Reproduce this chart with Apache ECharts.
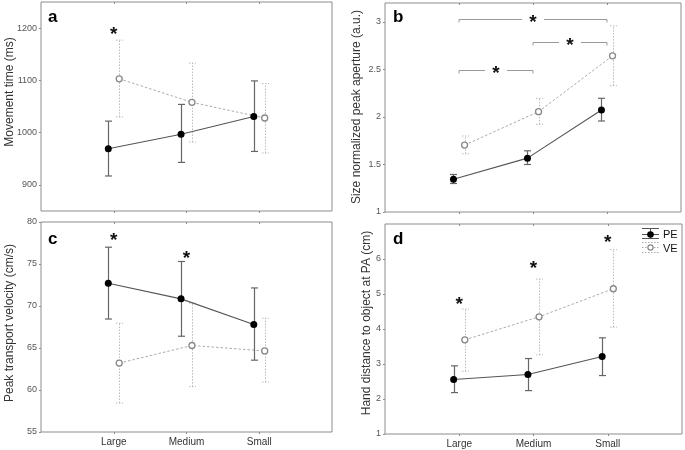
<!DOCTYPE html>
<html>
<head>
<meta charset="utf-8">
<script src="https://cdn.jsdelivr.net/npm/echarts@6/dist/echarts.min.js"></script>
<style>html,body{margin:0;padding:0;background:#fff}#c{width:685px;height:450px}</style>
</head>
<body>
<div id="c"></div>
<script>
// ---------- data ----------
const categories = ['Large', 'Medium', 'Small'];

const aPE = [969, 997, 1031];
const aPELo = [917, 943, 964];
const aPEHi = [1022, 1054, 1099];
const aVE = [1103, 1058, 1028];
const aVELo = [1030, 982, 961];
const aVEHi = [1177, 1133, 1094];

const bPE = [1.345, 1.567, 2.074];
const bPELo = [1.30, 1.50, 1.958];
const bPEHi = [1.395, 1.644, 2.197];
const bVE = [1.704, 2.056, 2.644];
const bVELo = [1.613, 1.923, 2.33];
const bVEHi = [1.80, 2.197, 2.96];

const cPE = [72.7, 70.85, 67.8];
const cPELo = [68.45, 66.4, 63.55];
const cPEHi = [77.0, 75.3, 72.15];
const cVE = [63.2, 65.3, 64.65];
const cVELo = [58.45, 60.4, 60.95];
const cVEHi = [67.95, 70.35, 68.55];

const dPE = [2.555, 2.70, 3.214];
const dPELo = [2.183, 2.24, 2.67];
const dPEHi = [2.947, 3.156, 3.748];
const dVE = [3.69, 4.349, 5.15];
const dVELo = [2.794, 3.26, 4.053];
const dVEHi = [4.569, 5.427, 6.267];

// significance markers (category position, value)
const aStars = [[1, 1195]];
const cStars = [[1, 78.3], [2, 76.1]];
const dStars = [[1, 4.8], [2, 5.84], [3, 6.58]];
// panel b brackets: from category, to category, level
const bBracketFrom = [1, 2, 1];
const bBracketTo = [3, 3, 2];
const bBracketLevel = [3.035, 2.79, 2.5];

// axis ranges / ticks
const aTicks = [900, 1000, 1100, 1200];
const bTicks = [1, 1.5, 2, 2.5, 3];
const cTicks = [55, 60, 65, 70, 75, 80];
const dTicks = [1, 2, 3, 4, 5, 6];

// ---------- chart ----------
const FONT = '"Liberation Sans", Arial, sans-serif';
const FRAME = '#8c8c8c';
const OFF = 0.075;

const chart = echarts.init(document.getElementById('c'), null, {renderer: 'canvas'});

const grids = [
  {left: 41, top: 2, width: 291, height: 209},
  {left: 385, top: 3, width: 296, height: 209},
  {left: 41, top: 222, width: 291, height: 210},
  {left: 385, top: 224, width: 297, height: 210}
];
const yRanges = [[850, 1250, aTicks], [1, 3.2, bTicks], [55, 80, cTicks], [1, 7, dTicks]];
const catPos = categories.map((c, i) => i + 1);

const xAxes = [];
const yAxes = [];
for (let k = 0; k < 4; k++) {
  const showLab = k >= 2;
  xAxes.push({
    type: 'value', gridIndex: k, min: 0, max: 4, position: 'bottom',
    splitLine: {show: false}, axisLine: {show: false},
    axisTick: {show: true, customValues: catPos, length: 2, lineStyle: {color: FRAME}},
    axisLabel: {show: showLab, customValues: catPos, formatter: v => categories[Math.round(v) - 1] || '',
      fontFamily: FONT, fontSize: 10, color: '#333', margin: 5}
  });
  yAxes.push({
    type: 'value', gridIndex: k, min: yRanges[k][0], max: yRanges[k][1],
    splitLine: {show: false}, axisLine: {show: false},
    axisTick: {show: true, customValues: yRanges[k][2], length: 2, lineStyle: {color: FRAME}},
    axisLabel: {customValues: yRanges[k][2], formatter: v => String(v),
      fontFamily: FONT, fontSize: 9, color: '#555', margin: 4}
  });
}
for (let k = 0; k < 4; k++) {
  xAxes.push({
    type: 'value', gridIndex: k, min: 0, max: 4, position: 'top',
    splitLine: {show: false}, axisLine: {show: false},
    axisTick: {show: true, inside: true, customValues: catPos, length: 2, lineStyle: {color: FRAME}},
    axisLabel: {show: false}
  });
}

function errRender(color, dash, cap, width) {
  return function (params, api) {
    const x = api.value(0), lo = api.value(1), hi = api.value(2);
    const pLo = api.coord([x, lo]), pHi = api.coord([x, hi]);
    const style = {stroke: color, lineWidth: width, lineDash: dash};
    const cx = Math.round(pLo[0]) + 0.5;
    return {type: 'group', children: [
      {type: 'line', shape: {x1: cx, y1: pLo[1], x2: cx, y2: pHi[1]}, style},
      {type: 'line', shape: {x1: cx - cap, y1: pLo[1], x2: cx + cap, y2: pLo[1]}, style},
      {type: 'line', shape: {x1: cx - cap, y1: pHi[1], x2: cx + cap, y2: pHi[1]}, style}
    ]};
  };
}

function starRender(params, api) {
  const p = api.coord([api.value(0), api.value(1)]);
  return {type: 'text', x: p[0], y: p[1] + 4, style: {
    text: '*', font: 'bold 19px ' + FONT, fill: '#111', align: 'center', verticalAlign: 'middle'}};
}

function bracketRender(params, api) {
  const p1 = api.coord([api.value(0), api.value(2)]);
  const p2 = api.coord([api.value(1), api.value(2)]);
  const y = Math.round(p1[1]) + 0.5;
  const mid = (p1[0] + p2[0]) / 2;
  const gap = 11;
  const style = {stroke: '#999', lineWidth: 1};
  return {type: 'group', children: [
    {type: 'line', shape: {x1: p1[0], y1: y, x2: mid - gap, y2: y}, style},
    {type: 'line', shape: {x1: mid + gap, y1: y, x2: p2[0], y2: y}, style},
    {type: 'line', shape: {x1: p1[0], y1: y, x2: p1[0], y2: y + 3}, style},
    {type: 'line', shape: {x1: p2[0], y1: y, x2: p2[0], y2: y + 3}, style}
  ]};
}

const panels = [
  [aPE, aPELo, aPEHi, aVE, aVELo, aVEHi, aStars],
  [bPE, bPELo, bPEHi, bVE, bVELo, bVEHi, null],
  [cPE, cPELo, cPEHi, cVE, cVELo, cVEHi, cStars],
  [dPE, dPELo, dPEHi, dVE, dVELo, dVEHi, dStars]
];

const series = [];
panels.forEach((p, k) => {
  const [pe, peLo, peHi, ve, veLo, veHi, stars] = p;
  const xPE = catPos.map(v => v - OFF);
  const xVE = catPos.map(v => v + OFF);
  series.push({
    type: 'custom', xAxisIndex: k, yAxisIndex: k, z: 2,
    renderItem: errRender('#bbb', [1.5, 1.5], 3.5, 1),
    data: xVE.map((x, i) => [x, veLo[i], veHi[i]])
  });
  series.push({
    type: 'line', xAxisIndex: k, yAxisIndex: k, z: 3,
    data: xVE.map((x, i) => [x, ve[i]]),
    lineStyle: {color: '#aaa', width: 1, type: [2.5, 2]},
    symbol: 'circle', symbolSize: 6,
    itemStyle: {color: '#fff', borderColor: '#888', borderWidth: 1.3},
    silent: true, animation: false
  });
  series.push({
    type: 'custom', xAxisIndex: k, yAxisIndex: k, z: 4,
    renderItem: errRender('#666', null, 3.5, 1.2),
    data: xPE.map((x, i) => [x, peLo[i], peHi[i]])
  });
  series.push({
    type: 'line', xAxisIndex: k, yAxisIndex: k, z: 5,
    data: xPE.map((x, i) => [x, pe[i]]),
    lineStyle: {color: '#555', width: 1.1},
    symbol: 'circle', symbolSize: 7,
    itemStyle: {color: '#000'},
    silent: true, animation: false
  });
  if (stars) {
    series.push({
      type: 'custom', xAxisIndex: k, yAxisIndex: k, z: 6,
      renderItem: starRender, data: stars
    });
  }
});
// panel b brackets and stars
series.push({
  type: 'custom', xAxisIndex: 1, yAxisIndex: 1, z: 6,
  renderItem: bracketRender,
  data: bBracketFrom.map((f, i) => [f, bBracketTo[i], bBracketLevel[i]])
});
series.push({
  type: 'custom', xAxisIndex: 1, yAxisIndex: 1, z: 6,
  renderItem: starRender,
  data: bBracketFrom.map((f, i) => [(f + bBracketTo[i]) / 2, bBracketLevel[i]])
});

const titleStyle = {font: '12px ' + FONT, fill: '#333', align: 'center', verticalAlign: 'middle'};
const graphic = [
  {type: 'text', x: 10, y: 92, rotation: Math.PI / 2, style: Object.assign({text: 'Movement time (ms)'}, titleStyle)},
  {type: 'text', x: 357, y: 107, rotation: Math.PI / 2, style: Object.assign({text: 'Size normalized peak aperture (a.u.)'}, titleStyle)},
  {type: 'text', x: 10, y: 323, rotation: Math.PI / 2, style: Object.assign({text: 'Peak transport velocity (cm/s)'}, titleStyle)},
  {type: 'text', x: 367, y: 323, rotation: Math.PI / 2, style: Object.assign({text: 'Hand distance to object at PA (cm)'}, titleStyle)},
  {type: 'text', x: 48, y: 17, style: {text: 'a', font: 'bold 17px ' + FONT, fill: '#000', verticalAlign: 'middle'}},
  {type: 'text', x: 393, y: 17, style: {text: 'b', font: 'bold 17px ' + FONT, fill: '#000', verticalAlign: 'middle'}},
  {type: 'text', x: 48, y: 239, style: {text: 'c', font: 'bold 17px ' + FONT, fill: '#000', verticalAlign: 'middle'}},
  {type: 'text', x: 393, y: 239, style: {text: 'd', font: 'bold 17px ' + FONT, fill: '#000', verticalAlign: 'middle'}},
  // legend PE
  {type: 'line', shape: {x1: 642, y1: 228.5, x2: 659, y2: 228.5}, style: {stroke: '#555', lineWidth: 1}},
  {type: 'line', shape: {x1: 642, y1: 234.5, x2: 659, y2: 234.5}, style: {stroke: '#555', lineWidth: 1}},
  {type: 'line', shape: {x1: 642, y1: 238.5, x2: 659, y2: 238.5}, style: {stroke: '#555', lineWidth: 1}},
  {type: 'line', shape: {x1: 650.5, y1: 228.5, x2: 650.5, y2: 238.5}, style: {stroke: '#555', lineWidth: 1}},
  {type: 'circle', shape: {cx: 650.5, cy: 234.5, r: 3.3}, style: {fill: '#000'}},
  {type: 'text', x: 663, y: 235, style: {text: 'PE', font: '11px ' + FONT, fill: '#111', verticalAlign: 'middle'}},
  // legend VE
  {type: 'line', shape: {x1: 642, y1: 242.5, x2: 659, y2: 242.5}, style: {stroke: '#aaa', lineWidth: 1, lineDash: [1.5, 1.5]}},
  {type: 'line', shape: {x1: 642, y1: 247.5, x2: 659, y2: 247.5}, style: {stroke: '#aaa', lineWidth: 1, lineDash: [1.5, 1.5]}},
  {type: 'line', shape: {x1: 642, y1: 252.5, x2: 659, y2: 252.5}, style: {stroke: '#aaa', lineWidth: 1, lineDash: [1.5, 1.5]}},
  {type: 'circle', shape: {cx: 650.5, cy: 247.5, r: 2.6}, style: {fill: '#fff', stroke: '#888', lineWidth: 1.2}},
  {type: 'text', x: 663, y: 249, style: {text: 'VE', font: '11px ' + FONT, fill: '#111', verticalAlign: 'middle'}}
];

chart.setOption({
  animation: false,
  backgroundColor: '#fff',
  grid: grids.map(g => Object.assign({show: true, borderColor: FRAME, borderWidth: 1, backgroundColor: 'transparent'}, g)),
  xAxis: xAxes,
  yAxis: yAxes,
  series,
  graphic
});
</script>
</body>
</html>
